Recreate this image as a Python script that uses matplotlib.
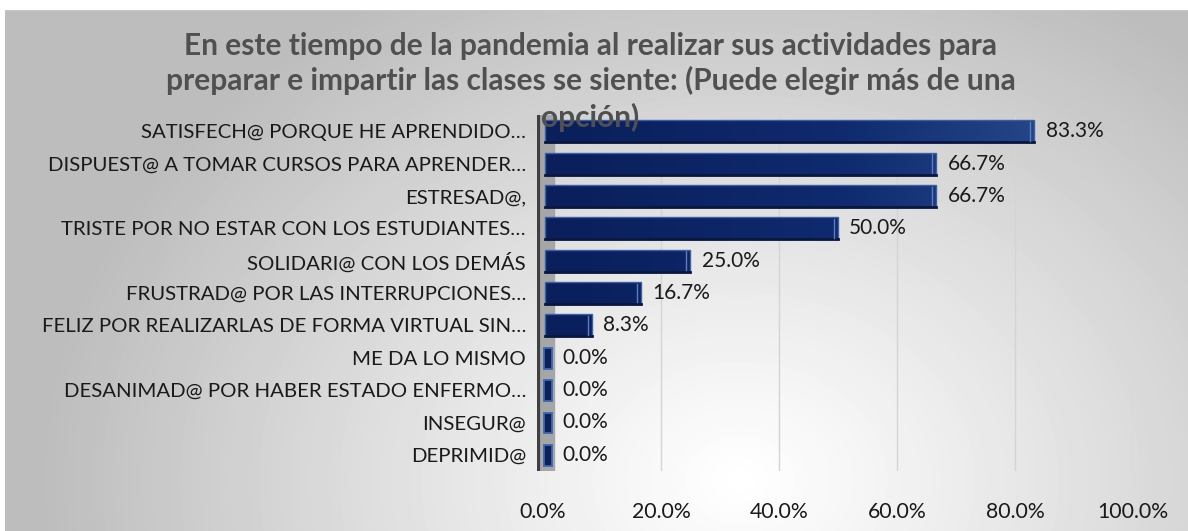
import numpy as np
import matplotlib.pyplot as plt
from matplotlib.colors import LinearSegmentedColormap
from matplotlib.patches import Rectangle

plt.rcParams['font.family'] = ['Lato', 'DejaVu Sans']

categories = [
    'SATISFECH@ PORQUE HE APRENDIDO…',
    'DISPUEST@ A TOMAR CURSOS PARA APRENDER…',
    'ESTRESAD@,',
    'TRISTE POR NO ESTAR CON LOS ESTUDIANTES…',
    'SOLIDARI@ CON LOS DEMÁS',
    'FRUSTRAD@ POR LAS INTERRUPCIONES…',
    'FELIZ POR REALIZARLAS DE FORMA VIRTUAL SIN…',
    'ME DA LO MISMO',
    'DESANIMAD@ POR HABER ESTADO ENFERMO…',
    'INSEGUR@',
    'DEPRIMID@',
]
values = [83.3, 66.7, 66.7, 50.0, 25.0, 16.7, 8.3, 0.0, 0.0, 0.0, 0.0]
x_ticks = [0, 20, 40, 60, 80, 100]
x_tick_labels = ['0.0%', '20.0%', '40.0%', '60.0%', '80.0%', '100.0%']
title_lines = [
    'En este tiempo de la pandemia al realizar sus actividades para',
    'preparar e impartir las clases se siente: (Puede elegir más de una',
    'opción)',
]

W, H = 1188, 531
fig = plt.figure(figsize=(W / 100, H / 100), dpi=100)

# radial gray background panel
bg = fig.add_axes([5 / W, 0, 1 - 5 / W, 1 - 10 / H])
bg.set_axis_off()
yy, xx = np.mgrid[10:H, 5:W]
d = np.hypot((xx - 740) / 1.0, (yy - 480) / 0.8)
g = np.clip(d / 700, 0, 1) ** 1.1
bg.imshow(1 - 0.26 * g, cmap='gray', vmin=0, vmax=1, aspect='auto',
          extent=(0, 1, 0, 1), interpolation='bilinear')
bg.set_xlim(0, 1)
bg.set_ylim(0, 1)
bg.plot([0, 1], [1, 1], color='#c8c8c8', lw=1.5)

ax = fig.add_axes([537 / W, 1 - 471 / H, (1133 - 537) / W, (471 - 115) / H])
ax.patch.set_alpha(0)
ax.set_xlim(-1, 100)
ax.set_ylim(len(values) - 0.5, -0.5)

for t in x_ticks[1:]:
    ax.axvline(t, color='#d4d4d4', lw=1, zorder=0)

# side wall
ax.axvspan(-0.9, 1.9, color='#a6a6a6', zorder=1)
ax.axvline(-0.85, color='#404040', lw=3, zorder=2)

cmap = LinearSegmentedColormap.from_list('bar', ['#0a1f5c', '#0f2a6e', '#2f5395'])
grad = np.linspace(0, 1, 256).reshape(1, -1)
bh = 0.68
for i, v in enumerate(values):
    y0 = i - bh / 2
    if v > 0:
        rect = Rectangle((0.3, y0), v - 0.3, bh, facecolor='none',
                         edgecolor='#3a5fa8', lw=1.0, zorder=4)
        ax.add_patch(rect)
        im = ax.imshow(grad, cmap=cmap, aspect='auto', extent=(0, 100, y0 + bh, y0),
                       zorder=3, interpolation='bilinear')
        im.set_clip_path(rect)
        ax.plot([0.3, v], [y0 + bh, y0 + bh], color='#081640', lw=2, zorder=5)
        ax.plot([v - 0.7, v - 0.7], [y0 + 0.05, y0 + bh - 0.05], color='#5a7cc0',
                lw=1, zorder=5)
    else:
        # only the end face of the 3d bar shows
        ax.add_patch(Rectangle((v + 0.2, y0 + 0.04), 1.3, bh - 0.04, facecolor='#0c2257',
                               edgecolor='#3b66b8', lw=1.3, zorder=6))
    ax.annotate(f'{v:.1f}%', (max(v, 1.5), i), xytext=(8, 0), textcoords='offset points',
                va='center', ha='left', fontsize=15, color='#1a1a1a')

ax.set_yticks(range(len(values)))
ax.set_yticklabels(categories, fontsize=14.7, color='#1a1a1a')
ax.set_xticks(x_ticks)
ax.set_xticklabels(x_tick_labels, fontsize=15.3, color='#1a1a1a')
ax.tick_params(axis='y', length=0, pad=8)
ax.tick_params(axis='x', length=0, pad=22)
for s in ax.spines.values():
    s.set_visible(False)

for k, (line, base) in enumerate(zip(title_lines, [55, 90, 127])):
    fig.text(0.497, 1 - base / H, line, ha='center', va='baseline', fontsize=21.5,
             fontweight='bold', color='#505050', zorder=10)

fig.savefig('out.png', dpi=100)
